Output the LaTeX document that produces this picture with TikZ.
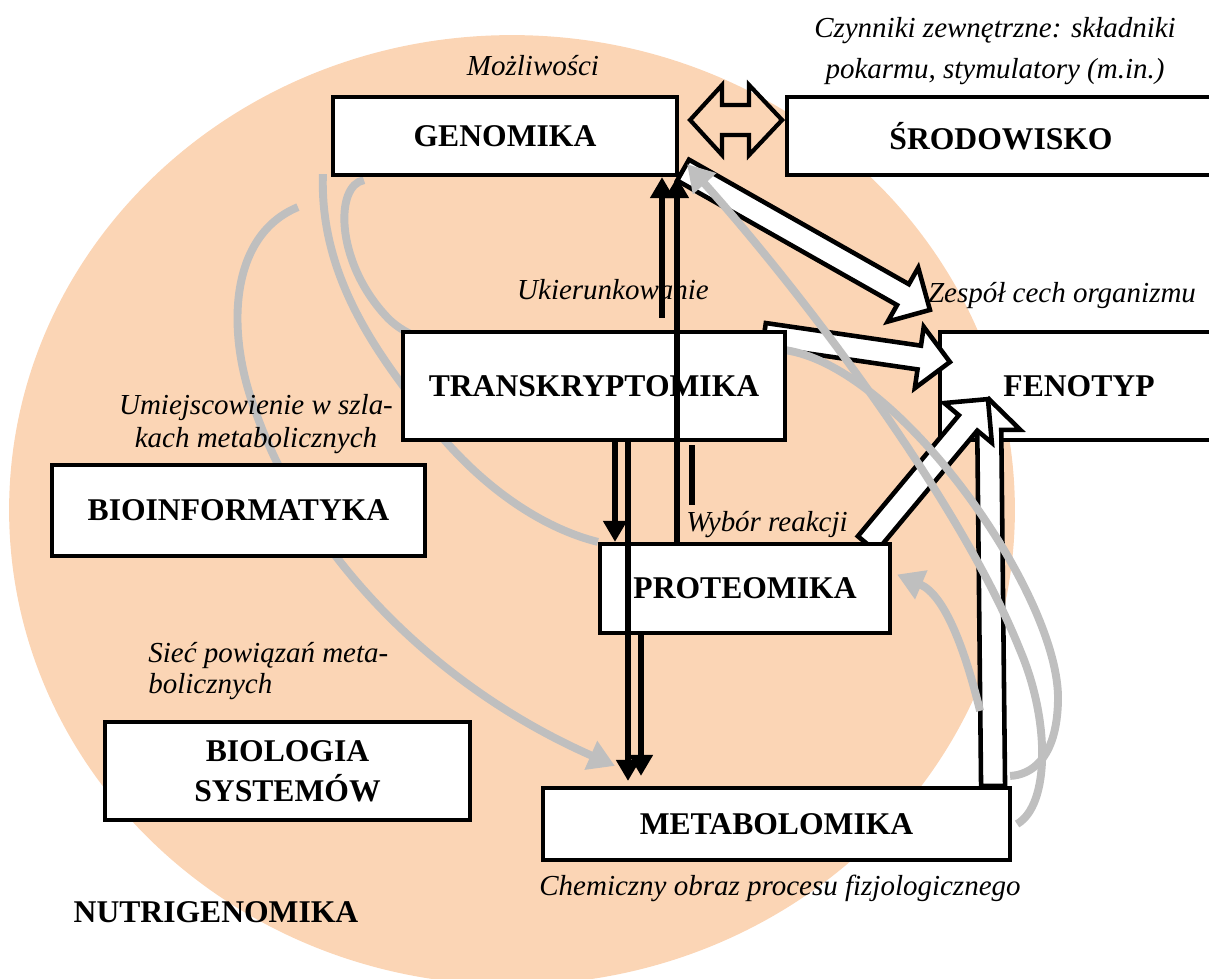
\documentclass[tikz,border=0pt]{standalone}
\usepackage{fontspec}
\setmainfont{Liberation Serif}
\usetikzlibrary{calc,arrows.meta}

\definecolor{peach}{RGB}{251,213,181}
\definecolor{curvegray}{RGB}{191,191,191}

\pgfdeclarelayer{back}
\pgfdeclarelayer{blocks}
\pgfdeclarelayer{curves}
\pgfsetlayers{back,blocks,curves,main}

\tikzset{
  box/.style={rectangle, draw, line width=2.4pt, fill=white, inner sep=0pt, align=center, font=\fontsize{18}{22.7}\selectfont\bfseries},
  note/.style={inner sep=0pt, font=\fontsize{16.5}{19}\selectfont\itshape},
  hollow/.style={draw, fill=white, line width=2.6pt, line join=miter},
  flow/.style={line width=3.6pt, -{Triangle[width=13pt,length=12pt]}},
  grayline/.style={draw=curvegray, line width=4.5pt},
  grayhead/.style={-{Triangle[width=17pt,length=15pt]}},
}

\newcommand{\hollowarrow}[2]{%
  \coordinate (ha-base) at ($(#2)!0.62cm!(#1)$);
  \draw[hollow] ($(#1)!0.24cm!90:(#2)$) -- ($(ha-base)!0.24cm!-90:(#1)$)
    -- ($(ha-base)!0.62cm!-90:(#1)$) -- (#2) -- ($(ha-base)!0.62cm!90:(#1)$)
    -- ($(ha-base)!0.24cm!90:(#1)$) -- ($(#1)!0.24cm!-90:(#2)$) -- cycle;}

\begin{document}
\begin{tikzpicture}[x=0.02cm, y=-0.02cm]
\useasboundingbox (0,0) rectangle (1209,978);

\begin{pgfonlayer}{back}
\fill[peach] (512,510) ellipse [x radius=10.06cm, y radius=9.5cm];
\node (fenotyp) [box, minimum width=5.56cm, minimum height=2.16cm] at (1079,386) {FENOTYP};
\end{pgfonlayer}

\node (genomika) [box, minimum width=6.88cm, minimum height=1.56cm] at (505,136) {GENOMIKA};
\node (srodowisko) [box, minimum width=8.56cm, minimum height=1.56cm] at (1001,136) {ŚRODOWISKO};
\node (transkryptomika) [box, minimum width=7.64cm, minimum height=2.16cm] at (594,386) {TRANSKRYPTOMIKA};
\node (bioinformatyka) [box, minimum width=7.46cm, minimum height=1.82cm] at (238.5,510.5) {BIOINFORMATYKA};
\node (proteomika) [box, minimum width=5.8cm, minimum height=1.78cm] at (745,588.5) {PROTEOMIKA};
\node (biologia) [box, minimum width=7.3cm, minimum height=1.96cm] at (287.5,771) {BIOLOGIA\\SYSTEMÓW};
\node (metabolomika) [box, minimum width=9.34cm, minimum height=1.44cm] at (776.5,824) {METABOLOMIKA};

\coordinate (swap) at ($(genomika.east)+(11,-16)$);
\draw[line width=2.4pt, line join=miter] (swap) -- ++(32,-35) -- ++(0,20) -- ++(27,0) -- ++(0,-20) -- ++(33,35)
  -- ++(-33,35) -- ++(0,-20) -- ++(-27,0) -- ++(0,20) -- cycle;

\node (mozliwosci) [note] at (533,66) {Możliwości};
\node (czynniki) [note, align=center, font=\fontsize{16.5}{23.8}\selectfont\itshape] at (995,51) {Czynniki zewnętrzne: składniki\\pokarmu, stymulatory (m.in.)};
\node (ukierunkowanie) [note] at (613,290) {Ukierunkowanie};
\node (zespol) [note] at (1062,296) {Zespół cech organizmu};
\node (umiejscowienie) [note, align=center, font=\fontsize{16.5}{18.7}\selectfont\itshape] at (256,424) {Umiejscowienie w szla-\\kach metabolicznych};
\node (wybor) [note] at (767,525) {Wybór reakcji};
\node (siec) [note, align=left, anchor=west, font=\fontsize{16.5}{18.1}\selectfont\itshape] at (148,671) {Sieć powiązań meta-\\bolicznych};
\node (chemiczny) [note] at (780,888) {Chemiczny obraz procesu fizjologicznego};
\node (nutrigenomika) [font=\fontsize{18}{22}\selectfont\bfseries, inner sep=0pt] at (216,912) {NUTRIGENOMIKA};

\begin{pgfonlayer}{blocks}
\coordinate (g-tail) at ($(genomika.south east)+(4,-7)$);
\coordinate (g-tip) at ($(fenotyp.north west)+(-8,-20)$);
\hollowarrow{g-tail}{g-tip}
\coordinate (t-tail) at ($(transkryptomika.north east)+(-23,5)$);
\coordinate (t-tip) at ($(fenotyp.west)+(12,-24)$);
\hollowarrow{t-tail}{t-tip}
\coordinate (m-tail) at ($(metabolomika.north east)+(-19,0)$);
\coordinate (m-tip) at ($(fenotyp.south west)+(51,-43)$);
\hollowarrow{m-tail}{m-tip}
\coordinate (p-tail) at ($(proteomika.north east)+(-25,2)$);
\coordinate (p-tip) at ($(fenotyp.south west)+(50,-43)$);
\hollowarrow{p-tail}{p-tip}
\end{pgfonlayer}

\begin{pgfonlayer}{curves}
\coordinate (g1-start) at ($(genomika.south west)+(-33,30)$);
\coordinate (g1-end) at ($(metabolomika.north west)+(74,-20)$);
\draw[grayline, grayhead] (g1-start) .. controls (230,235) and (225,330) .. (255,410) .. controls (300,540) and (420,680) .. (g1-end);
\coordinate (g2-start) at ($(genomika.south west)+(-8,-3)$);
\draw[grayline] (g2-start) .. controls (320,260) and (360,330) .. (410,395) .. controls (460,470) and (530,525) .. (proteomika.north west);
\coordinate (g3-start) at ($(genomika.south west)+(33,3)$);
\coordinate (g3-end) at ($(metabolomika.north east)+(-2,-10)$);
\draw[grayline] (g3-start) .. controls (335,185) and (335,260) .. (385,315) .. controls (450,390) and (700,330) .. (795,352) .. controls (910,380) and (1060,600) .. (1058,700) .. controls (1057,760) and (1030,775) .. (g3-end);
\coordinate (g4-start) at ($(metabolomika.east)+(5,0)$);
\coordinate (g4-end) at ($(genomika.south east)+(8,-13)$);
\draw[grayline, grayhead] (g4-start) .. controls (1050,805) and (1050,720) .. (1020,650) .. controls (960,500) and (800,290) .. (g4-end);
\coordinate (g5-start) at ($(metabolomika.north east)+(-32,-75)$);
\coordinate (g5-end) at ($(proteomika.east)+(5,-14)$);
\draw[grayline, grayhead] (g5-start) .. controls (965,650) and (945,595) .. (g5-end);
\end{pgfonlayer}

\coordinate (t-a) at ($(transkryptomika.south)+(21,0)$);
\draw[flow] (t-a) -- (t-a |- proteomika.north);
\coordinate (t-b) at ($(transkryptomika.south)+(34,0)$);
\draw[flow, shorten >=2.8pt] (t-b) -- (t-b |- metabolomika.north);
\coordinate (p-c) at ($(proteomika.south)+(-104,0)$);
\draw[flow, shorten >=5.7pt] (p-c) -- (p-c |- metabolomika.north);
\coordinate (p-d) at ($(proteomika.north)+(-68,4)$);
\draw[flow] (p-d) -- (p-d |- genomika.south);
\coordinate (t-e) at ($(transkryptomika.north)+(68,-12)$);
\draw[flow] (t-e) -- (t-e |- genomika.south);
\coordinate (t-f) at ($(transkryptomika.south)+(98,3)$);
\draw[line width=3.6pt] (t-f) -- ++(0,60);
\end{tikzpicture}
\end{document}
